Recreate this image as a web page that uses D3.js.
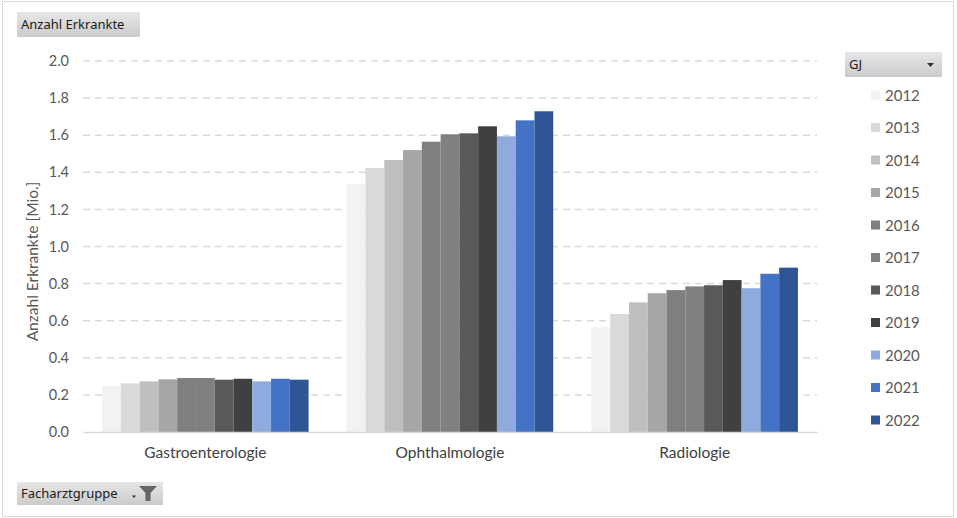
<!DOCTYPE html>
<html>
<head>
<meta charset="utf-8">
<script src="https://cdn.jsdelivr.net/npm/d3@7/dist/d3.min.js"></script>
<style>
  html, body { margin: 0; padding: 0; background: #fff; }
  svg { display: block; }
</style>
</head>
<body>
<svg id="chart" width="957" height="518"></svg>
<script>
// Specialist groups and patient counts (millions) per year
const categories = ["Gastroenterologie", "Ophthalmologie", "Radiologie"];
const years = ["2012", "2013", "2014", "2015", "2016", "2017", "2018", "2019", "2020", "2021", "2022"];
const gastroenterologie = [0.248, 0.262, 0.273, 0.284, 0.291, 0.291, 0.282, 0.287, 0.273, 0.287, 0.282];
const ophthalmologie    = [1.337, 1.423, 1.466, 1.520, 1.565, 1.605, 1.610, 1.648, 1.594, 1.680, 1.729];
const radiologie        = [0.566, 0.636, 0.699, 0.748, 0.765, 0.785, 0.791, 0.819, 0.775, 0.853, 0.886];
const yearColors = ["#f2f2f2", "#d9d9d9", "#bfbfbf", "#a6a6a6", "#7f7f7f", "#808080",
                    "#595959", "#404040", "#8faadc", "#4472c4", "#2f5597"];
const yTicks = [0, 0.2, 0.4, 0.6, 0.8, 1.0, 1.2, 1.4, 1.6, 1.8, 2.0];

const seriesByCategory = [gastroenterologie, ophthalmologie, radiologie];
const table = categories.map((c, i) => ({
  category: c,
  values: years.map((y, j) => ({ year: y, value: seriesByCategory[i][j] }))
}));

const svg = d3.select("#chart");
const font = "Lato, 'Noto Sans', sans-serif";
const uiFont = "'Noto Sans', 'Open Sans', sans-serif";

// Outer frame
svg.append("rect")
  .attr("x", 2.5).attr("y", 1.5).attr("width", 951).attr("height", 515)
  .attr("fill", "#fff").attr("stroke", "#d9d9d9").attr("stroke-width", 1);

const defs = svg.append("defs");
const grad = defs.append("linearGradient").attr("id", "btnGrad")
  .attr("x1", 0).attr("y1", 0).attr("x2", 0).attr("y2", 1);
grad.append("stop").attr("offset", "0%").attr("stop-color", "#e6e6e6");
grad.append("stop").attr("offset", "100%").attr("stop-color", "#cbcbcb");

const plot = { left: 83, right: 817, top: 61, bottom: 432 };

const y = d3.scaleLinear().domain([0, 2.0]).range([plot.bottom, plot.top]);
const x0 = d3.scaleBand().domain(categories).range([plot.left, plot.right]).padding(0);
const inset = x0.step() * 0.078;
const x1 = d3.scaleBand().domain(years).range([inset, x0.bandwidth() - inset]).padding(0);
const color = d3.scaleOrdinal().domain(years).range(yearColors);

// Dashed gridlines
svg.append("g")
  .selectAll("line")
  .data(yTicks.filter(t => t > 0))
  .join("line")
  .attr("x1", plot.left).attr("x2", plot.right)
  .attr("y1", d => y(d)).attr("y2", d => y(d))
  .attr("stroke", "#d9d9d9").attr("stroke-width", 1.5)
  .attr("stroke-dasharray", "7,5");

// Bars
svg.append("g")
  .selectAll("g")
  .data(table)
  .join("g")
  .attr("transform", d => `translate(${x0(d.category)},0)`)
  .selectAll("rect")
  .data(d => d.values)
  .join("rect")
  .attr("x", d => x1(d.year))
  .attr("width", x1.bandwidth())
  .attr("y", d => y(d.value))
  .attr("height", d => y(0) - y(d.value))
  .attr("fill", d => color(d.year));

// Category axis
const xAxis = svg.append("g")
  .attr("transform", `translate(0,${plot.bottom})`)
  .call(d3.axisBottom(x0).tickSize(0).tickPadding(15));
xAxis.select(".domain").attr("stroke", "#d9d9d9").attr("stroke-width", 1.5);
xAxis.selectAll("text")
  .attr("font-family", font).attr("font-size", 15.5).attr("fill", "#404040");

// Value axis
const yAxis = svg.append("g")
  .attr("transform", `translate(${plot.left},0)`)
  .call(d3.axisLeft(y).tickValues(yTicks).tickFormat(d3.format(".1f")).tickSize(0).tickPadding(14));
yAxis.select(".domain").remove();
yAxis.selectAll("text")
  .attr("font-family", font).attr("font-size", 14.5).attr("fill", "#595959");

// Axis title
svg.append("text")
  .attr("transform", `translate(38,${(plot.top + plot.bottom) / 2 + 15}) rotate(-90)`)
  .attr("text-anchor", "middle")
  .attr("font-family", font).attr("font-size", 15.5).attr("fill", "#595959")
  .text("Anzahl Erkrankte [Mio.]");

// Field buttons
function button(x, yy, w, h, label) {
  const g = svg.append("g").attr("transform", `translate(${x},${yy})`);
  g.append("rect").attr("width", w).attr("height", h).attr("fill", "url(#btnGrad)");
  g.append("text").attr("x", 4).attr("y", h / 2 + 4.5)
    .attr("font-family", uiFont).attr("font-size", 13).attr("fill", "#1a1a1a")
    .text(label);
  return g;
}
button(17, 12, 123, 25, "Anzahl Erkrankte");

const gj = button(845, 52, 97, 25, "GJ");
gj.append("path").attr("d", "M82,11 L89,11 L85.5,15 Z").attr("fill", "#333");

const fg = button(17, 482, 146, 23, "Facharztgruppe");
fg.append("path").attr("d", "M115,13.5 L119,13.5 L117,16 Z").attr("fill", "#333");
fg.append("path").attr("d", "M122,4 L140,4 L133.5,11 L133.5,19 L128.5,19 L128.5,11 Z").attr("fill", "#666");

// Legend
const legend = svg.append("g")
  .selectAll("g")
  .data(years)
  .join("g")
  .attr("transform", (d, i) => `translate(871,${95 + i * 32.5})`);
legend.append("rect")
  .attr("x", 0).attr("y", -4.5).attr("width", 9).attr("height", 9)
  .attr("fill", d => color(d));
legend.append("text")
  .attr("x", 14).attr("y", 5.5)
  .attr("font-family", font).attr("font-size", 15).attr("fill", "#595959")
  .text(d => d);
</script>
</body>
</html>
